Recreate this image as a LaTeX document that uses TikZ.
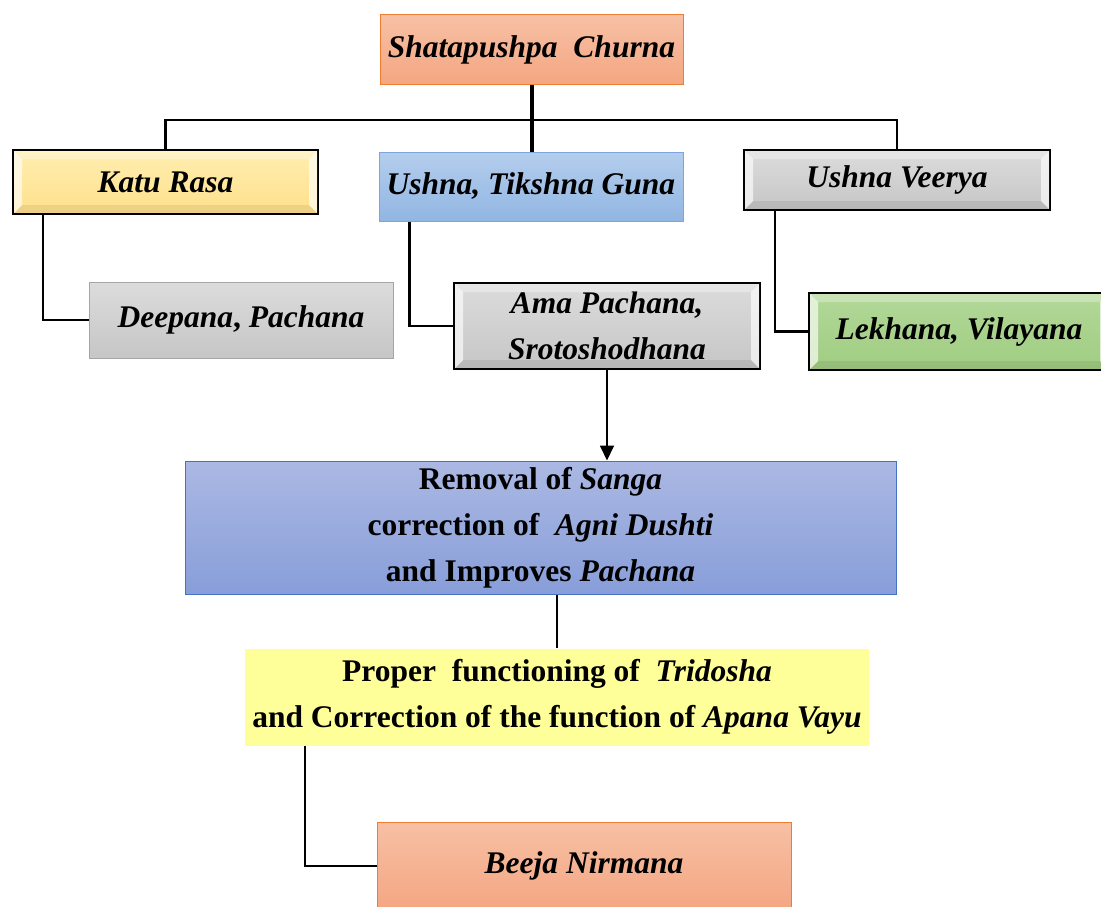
\documentclass[tikz,border=0pt]{standalone}
\usepackage{fontspec}
\setmainfont{Liberation Serif}
\usetikzlibrary{arrows.meta,calc}
\definecolor{salmonT}{RGB}{247,192,164}
\definecolor{salmonB}{RGB}{244,166,130}
\definecolor{salmonD}{RGB}{237,125,49}
\definecolor{yelT}{RGB}{255,238,176}
\definecolor{yelB}{RGB}{255,224,140}
\definecolor{bluT}{RGB}{180,205,237}
\definecolor{bluB}{RGB}{146,182,226}
\definecolor{bluD}{RGB}{125,165,218}
\definecolor{grayT}{RGB}{220,220,220}
\definecolor{grayB}{RGB}{198,198,198}
\definecolor{grayD}{RGB}{165,165,165}
\definecolor{grnT}{RGB}{178,216,152}
\definecolor{grnB}{RGB}{160,205,130}
\definecolor{remT}{RGB}{171,184,227}
\definecolor{remB}{RGB}{136,158,217}
\definecolor{remD}{RGB}{68,114,196}
\definecolor{propY}{RGB}{255,255,153}
\tikzset{
  x=1pt, y=-1pt,
  box/.style={rectangle, inner sep=0pt, align=center, text=black,
    font=\fontsize{31.5}{46}\selectfont\bfseries\itshape},
  mixbox/.style={rectangle, inner sep=0pt, align=center, text=black,
    font=\fontsize{31.5}{46}\selectfont\bfseries},
  salmonbox/.style={top color=salmonT, bottom color=salmonB, draw=salmonD, line width=1pt},
  yellowbevel/.style={top color=yelT, bottom color=yelB, draw=black, line width=2pt},
  bluebox/.style={top color=bluT, bottom color=bluB, draw=bluD, line width=1pt},
  graybevel/.style={top color=grayT, bottom color=grayB, draw=black, line width=2pt},
  grayflat/.style={top color=grayT, bottom color=grayB, draw=grayD, line width=1pt},
  greenbevel/.style={top color=grnT, bottom color=grnB, draw=black, line width=2pt},
  rembox/.style={top color=remT, bottom color=remB, draw=remD, line width=1pt},
  propbox/.style={fill=propY},
  conn/.style={draw=black, line width=2.2pt},
  trunk/.style={draw=black, line width=4pt},
  arrowconn/.style={draw=black, line width=1.8pt, -{Triangle[length=15pt,width=14pt]}},
}
\newcommand{\bevelfx}[1]{%
  \fill[white,opacity=.30] ($(#1.north west)+(2,2)$) -- ($(#1.north east)+(-2,2)$) -- ($(#1.north east)+(-10,10)$) -- ($(#1.north west)+(10,10)$) -- cycle;
  \fill[black,opacity=.07] ($(#1.south west)+(2,-2)$) -- ($(#1.south east)+(-2,-2)$) -- ($(#1.south east)+(-10,-10)$) -- ($(#1.south west)+(10,-10)$) -- cycle;
  \fill[white,opacity=.65] ($(#1.north west)+(2,2)$) -- ($(#1.north west)+(10,10)$) -- ($(#1.south west)+(10,-10)$) -- ($(#1.south west)+(2,-2)$) -- cycle;
  \fill[white,opacity=.65] ($(#1.north east)+(-2,2)$) -- ($(#1.north east)+(-10,10)$) -- ($(#1.south east)+(-10,-10)$) -- ($(#1.south east)+(-2,-2)$) -- cycle;
}
\begin{document}
\begin{tikzpicture}
\useasboundingbox[fill=white] (0,0) rectangle (1101,907);

% nodes
\node[box, salmonbox, minimum width=303pt, minimum height=70pt] (top) at (531.5,50) {Shatapushpa\ \ Churna};
\node[box, yellowbevel, minimum width=305pt, minimum height=64pt] (katu) at (165.5,182) {Katu Rasa};
\node[box, bluebox, minimum width=304pt, minimum height=69pt] (guna) at (531,186.5) {Ushna, Tikshna Guna};
\node[box, graybevel, minimum width=306pt, minimum height=60pt] (veerya) at (897,180) {Ushna Veerya};
\node[box, grayflat, minimum width=304pt, minimum height=76pt] (deep) at (241,320) {Deepana\textup{,} Pachana};
\node[box, graybevel, minimum width=306pt, minimum height=86pt] (ama) at (607,326) {Ama Pachana,\\Srotoshodhana};
\node[box, greenbevel, minimum width=300pt, minimum height=77pt] (lek) at (959,331.5) {Lekhana, Vilayana};
\node[mixbox, rembox, minimum width=711pt, minimum height=133pt] (rem) at (540.5,527.5)
  {Removal of \textit{Sanga}\\correction of\ \ \textit{Agni Dushti}\\and Improves \textit{Pachana}};
\node[mixbox, propbox, minimum width=624pt, minimum height=97pt] (prop) at (557,697)
  {Proper\ \ functioning of\ \ \textit{Tridosha}\\and Correction of the function of \textit{Apana Vayu}};
\node[box, salmonbox, minimum width=414pt, minimum height=88pt] (beeja) at (584,866) {Beeja Nirmana};

\bevelfx{katu}
\bevelfx{veerya}
\bevelfx{ama}
\bevelfx{lek}

% connectors
\coordinate (junction) at (top.south |- 0,120);
\draw[conn] (katu.north) |- (junction) -| (veerya.north);
\draw[trunk] (top.south) -- (junction) -- (junction |- guna.north);
\draw[conn] ($(katu.south west)+(31,0)$) |- (deep.west);
\draw[conn] ($(guna.south west)+(31,0)$) |- (ama.west);
\draw[conn] ($(veerya.south west)+(32,0)$) |- (lek.west);
\draw[arrowconn] (ama.south) -- (ama.south |- rem.north);
\draw[conn] (prop.north |- rem.south) -- (prop.north);
\draw[conn] ($(prop.south west)+(60,0)$) |- (beeja.west);
\end{tikzpicture}
\end{document}
